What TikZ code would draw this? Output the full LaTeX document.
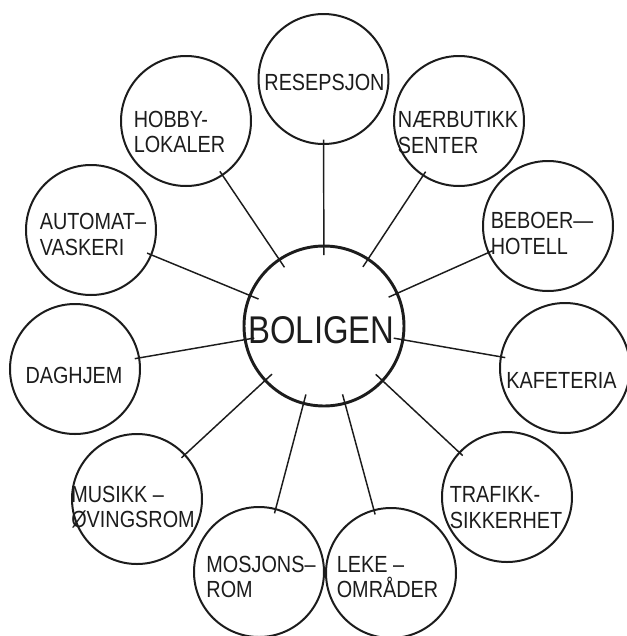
\documentclass[tikz,border=0pt]{standalone}
\usepackage{fontspec}
\newfontfamily\lettering[FakeStretch=0.85]{Liberation Sans}
\usepackage{tikz}
\definecolor{inkgray}{RGB}{28,28,28}

\begin{document}
\begin{tikzpicture}[x=0.75pt, y=-0.75pt]
\tikzset{
  hub/.style={circle, draw=inkgray, line width=2.2pt, minimum size=120pt, inner sep=0pt},
  room/.style={circle, draw=inkgray, line width=1.5pt, minimum size=97.5pt, inner sep=0pt},
  hubtext/.style={font=\lettering\fontsize{29}{30}\selectfont, text=inkgray, inner sep=0pt},
  roomtext/.style={font=\lettering\fontsize{17.5}{19}\selectfont, text=inkgray, align=left, inner sep=0pt},
  spoke/.style={draw=inkgray, line width=1.1pt, shorten <=-8pt, shorten >=-4pt}
}
\useasboundingbox (0,0) rectangle (627,636);
% centre
\node[hub] (boligen) at (324,326) {};
\node[hubtext] (boligen-t) at (321.5,330) {BOLIGEN};
% ring of rooms
\node[room] (resepsjon)  at (323.5,79) {};
\node[room] (naerbutikk) at (459,121)  {};
\node[room] (beboer)     at (548,226)  {};
\node[room] (kafeteria)  at (565,368)  {};
\node[room] (trafikk)    at (507,497)  {};
\node[room] (leke)       at (391,573)  {};
\node[room] (mosjon)     at (259,572)  {};
\node[room] (musikk)     at (137,499)  {};
\node[room] (daghjem)    at (75,369)   {};
\node[room] (automat)    at (91,230)   {};
\node[room] (hobby)      at (186,121)  {};
\node[roomtext] (resepsjon-t)  at (324.5,82)  {RESEPSJON};
\node[roomtext] (naerbutikk-t) at (458,132.5) {NÆRBUTIKK\\SENTER};
\node[roomtext] (beboer-t)     at (542,233.5) {BEBOER—\\HOTELL};
\node[roomtext] (kafeteria-t)  at (561.5,380) {KAFETERIA};
\node[roomtext] (trafikk-t)    at (506,507.5) {TRAFIKK-\\SIKKERHET};
\node[roomtext] (leke-t)       at (387.5,577) {LEKE –\\OMRÅDER};
\node[roomtext] (mosjon-t)     at (261,577)   {MOSJONS–\\ROM};
\node[roomtext] (musikk-t)     at (133,507)   {MUSIKK –\\ØVINGSROM};
\node[roomtext] (daghjem-t)    at (74,375)    {DAGHJEM};
\node[roomtext] (automat-t)    at (93,234.5)  {AUTOMAT–\\VASKERI};
\node[roomtext] (hobby-t)      at (179.5,132) {HOBBY-\\LOKALER};
% spokes
\foreach \room in {resepsjon,naerbutikk,beboer,kafeteria,trafikk,leke,mosjon,musikk,daghjem,automat,hobby}
  \draw[spoke] (boligen) -- (\room);
\end{tikzpicture}
\end{document}
